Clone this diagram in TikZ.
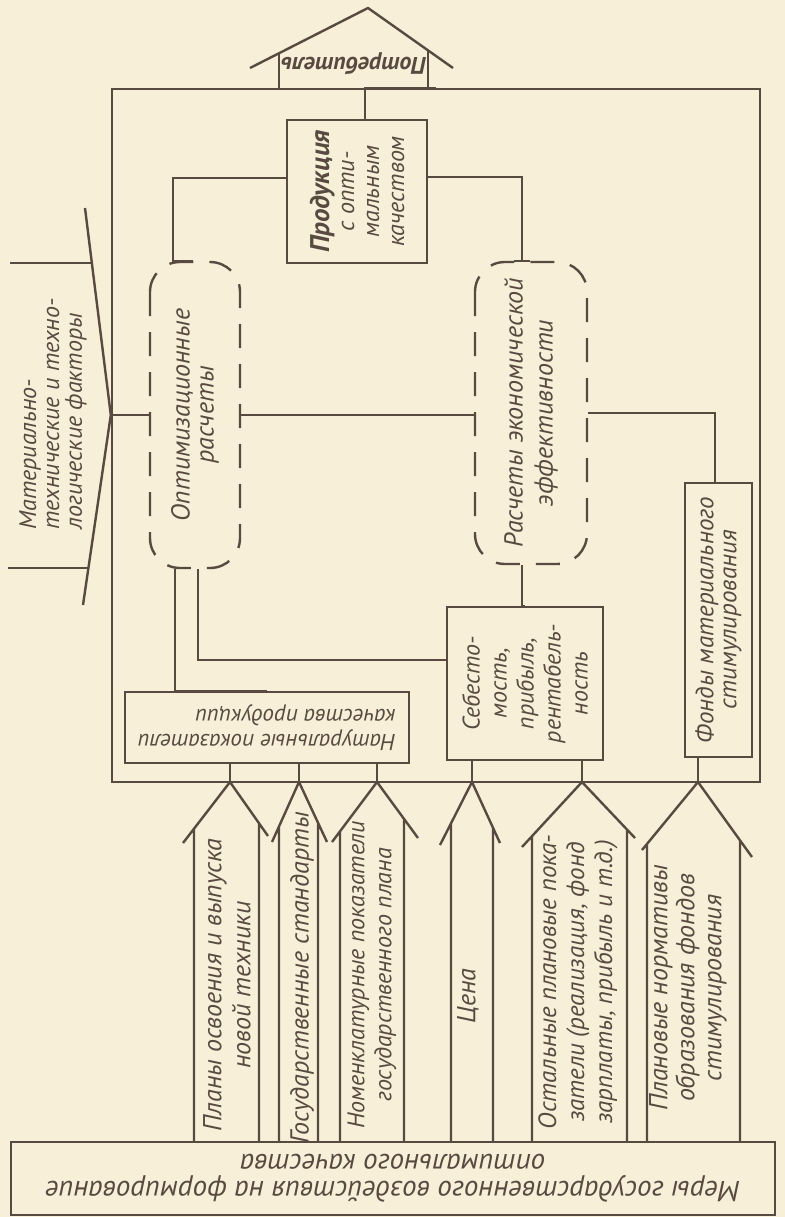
\documentclass[tikz,border=0pt]{standalone}
\usepackage{fontspec}
\setmainfont{PT Sans}
\definecolor{paper}{RGB}{247,239,216}
\definecolor{ink}{RGB}{88,74,64}

\begin{document}
\begin{tikzpicture}[x=0.5pt,y=-0.5pt,
  line width=1.2pt, color=ink,
  nodes={font=\itshape\fontsize{12}{13.5}\selectfont, align=center, inner sep=1pt},
  box/.style={draw, inner sep=2pt},
  vtext/.style={rotate=90},
  udtext/.style={rotate=180},
  dashbox/.style={draw, dash pattern=on 12pt off 8pt, rounded corners=#1},
  dashbox/.default=15pt]

\fill[paper] (0,0) rectangle (785,1217);
\useasboundingbox (0,0) rectangle (785,1217);

% enterprise frame
\node[draw, minimum width=324pt, minimum height=346.5pt] (frame) at (436,435.5) {};

% consumer house
\draw (250,68) -- (368,8) -- (453,68);
\draw (279,53) -- (279,89) (428,51) -- (428,89);
\node[udtext, font=\itshape\bfseries\fontsize{12}{14}\selectfont] (consumer) at (354,64) {Потребитель};

% product
\node[box, vtext, minimum width=71.5pt, minimum height=70pt, font=\itshape\fontsize{12}{12.5}\selectfont] (prod) at (357,191.5)
  {{\bfseries\fontsize{13.5}{12.5}\selectfont Продукция}\\с опти-\\мальным\\качеством};
\draw ([xshift=4pt]prod.east) |- (frame.north);

% calculations
\node[dashbox, vtext, minimum width=153pt, minimum height=45pt, font=\itshape\fontsize{13}{12}\selectfont] (opt) at (195,415) {Оптимизационные\\расчеты};
\node[dashbox, vtext, minimum width=151pt, minimum height=56pt, font=\itshape\fontsize{13}{15}\selectfont] (eff) at (531,413) {Расчеты экономической\\эффективности};

\draw ([yshift=6.75pt]prod.north) -| ([xshift=-11pt]opt.east) -- ++(20,0);
\draw ([yshift=7.25pt]prod.south) -| ([xshift=-4.5pt]eff.east) ++(-8,0) -- ++(16,0);

\draw (opt.north -| frame.west) -- (opt.north);
\draw (opt.south) -- (opt.south -| eff.north);

% outside factors
\draw (10,263) -- (92,263) (8,568) -- (88,568);
\draw (85,208) -- (opt.north -| frame.west) -- (83,605);
\node[vtext, align=left, font=\itshape\fontsize{12}{11.5}\selectfont] (factors) at (53,414) {Материально-\\технические и техно-\\логические факторы};

% inner boxes
\node[box, udtext, minimum width=142pt, minimum height=35.5pt, align=left, font=\itshape\fontsize{11.5}{12.5}\selectfont] (nat) at (267,727.5) {Натуральные показатели\\качества продукции};
\node[box, vtext, minimum width=76.5pt, minimum height=78pt] (cost) at (525,683.5) {Себесто-\\мость,\\прибыль,\\рентабель-\\ность};
\node[box, vtext, minimum width=137pt, minimum height=33.5pt, font=\itshape\fontsize{12.5}{11.5}\selectfont] (fund) at (718.5,620) {Фонды материального\\стимулирования};

\draw (eff.south) -| ([xshift=-1.75pt]fund.east);
\draw ([xshift=-10pt]opt.west) |- (nat.south);
\draw ([xshift=1.5pt]opt.west) |- ([yshift=11.75pt]cost.north);
\draw ([xshift=-4.5pt]eff.west) |- (cost.east);

% state measures
\node[box, udtext, minimum width=382pt, minimum height=36.5pt, font=\itshape\fontsize{14.5}{13.5}\selectfont] (measures) at (393,1178.5) {Меры государственного воздействия на формирование\\оптимального качества};

% arrows
\coordinate (a1) at (230,782);
\coordinate (a2) at (299,782);
\coordinate (a3) at (377,782);
\coordinate (a4) at (472,782);
\coordinate (a5) at (582,782);
\coordinate (a6) at (698,782);
\draw (a1) -- (a1 |- nat.north) (a2) -- (a2 |- nat.north) (a3) -- (a3 |- nat.north);
\draw (a4) -- (a4 |- cost.west) (a5) -- (a5 |- cost.west);
\draw (a6) -- (a6 |- fund.west);

\draw (183,843) -- (a1) -- (268,836) (194,829) -- (194,1142) (259,823) -- (259,1142);
\draw (272,842) -- (a2) -- (327,842) (279,826) -- (279,1142) (318,823) -- (318,1142);
\draw (332,842) -- (a3) -- (418,838) (340,831) -- (340,1142) (404,819) -- (404,1142);
\draw (440,845) -- (a4) -- (500,843) (451,823) -- (451,1142) (493,828) -- (493,1142);
\draw (522,847) -- (a5) -- (635,838) (532,836) -- (532,1142) (627,830) -- (627,1142);
\draw (642,850) -- (a6) -- (752,857) (647,844) -- (647,1142) (740,840) -- (740,1142);

\node[vtext, font=\itshape\fontsize{13}{14.5}\selectfont] (t1) at (227,985) {Планы освоения и выпуска\\новой техники};
\node[vtext, font=\itshape\fontsize{13}{14.5}\selectfont] (t2) at (302,978) {Государственные стандарты};
\node[vtext] (t3) at (372,975) {Номенклатурные показатели\\государственного плана};
\node[vtext, font=\itshape\fontsize{13}{14}\selectfont] (t4) at (468,996) {Цена};
\node[vtext, font=\itshape\fontsize{12.5}{14}\selectfont] (t5) at (578,982) {Остальные плановые пока-\\затели (реализация, фонд\\зарплаты, прибыль и т.д.)};
\node[vtext, font=\itshape\fontsize{13}{13.5}\selectfont] (t6) at (688,988) {Плановые нормативы\\образования фондов\\стимулирования};

\end{tikzpicture}
\end{document}
